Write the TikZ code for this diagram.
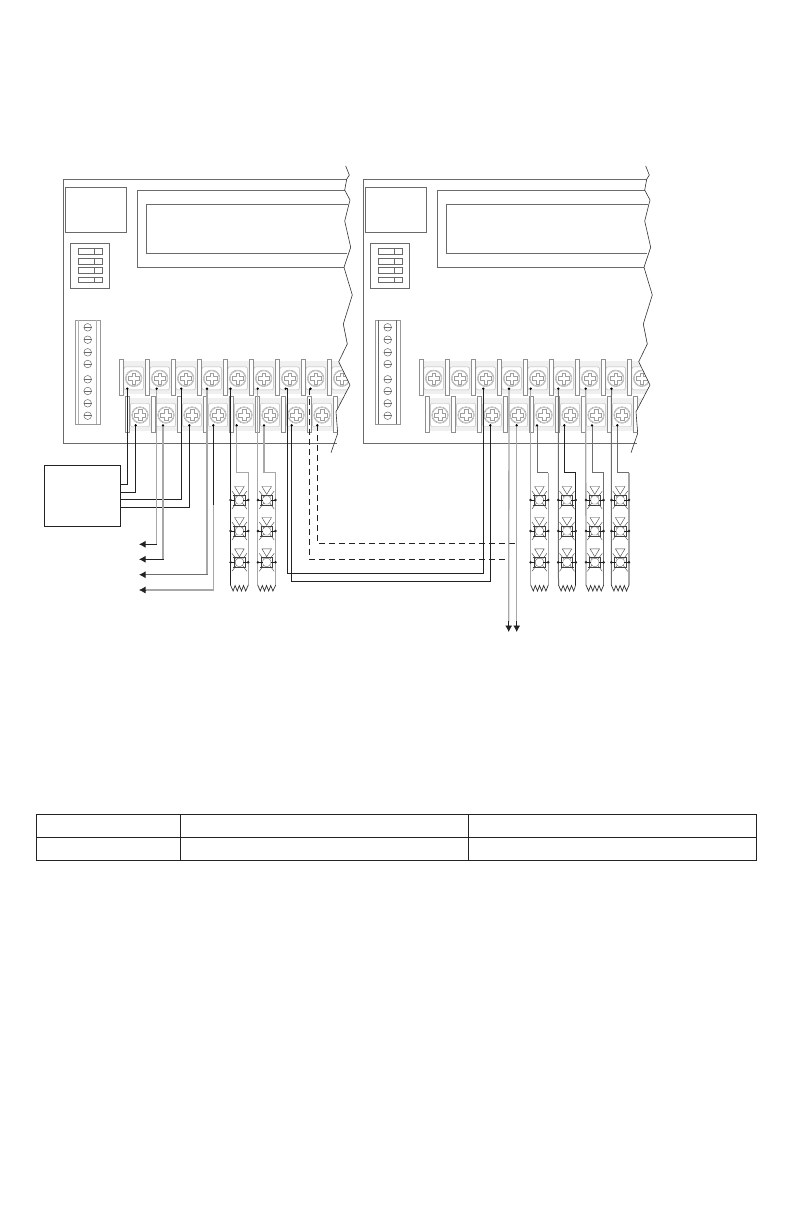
\documentclass[tikz,border=0pt]{standalone}
\usetikzlibrary{arrows.meta}
\definecolor{pline}{HTML}{6A6A6A}
\definecolor{wblack}{HTML}{222222}
\definecolor{wgray}{HTML}{A8A8A8}
\definecolor{wmid}{HTML}{6E6E6E}
\tikzset{
  panelline/.style={draw=pline,line width=0.8pt},
  breakline/.style={draw=black!80,line width=0.6pt},
  wireblack/.style={draw=wblack,line width=0.9pt},
  wiregray/.style={draw=wgray,line width=1.3pt},
  wiremid/.style={draw=wmid,line width=1pt},
  wiredash/.style={draw=wblack,line width=0.9pt,dash pattern=on 6pt off 4pt},
  tip/.style={-{Latex[length=6.5pt,width=7pt]}},
  barrier/.style={draw=pline!75,fill=white,line width=0.7pt},
  padbox/.style={draw=black!28,rounded corners=2pt,line width=0.45pt,fill=white},
  screwring/.style={draw=black!38,line width=0.4pt},
  tbl/.style={draw=wblack,line width=0.95pt},
  lampline/.style={draw=black!75,line width=0.4pt}
}
\newcommand{\screwhead}[2]{%
  \draw[padbox] (#1-9.7,#2-11.5) rectangle (#1+9.7,#2+11.5);
  \draw[screwring] (#1,#2) circle (8.3);
  \draw[screwring] (#1,#2) circle (7.5);
  \draw[screwring] (#1-1.7,#2-5.5) -- (#1+1.7,#2-5.5) -- (#1+1.7,#2-1.7) -- (#1+5.5,#2-1.7) -- (#1+5.5,#2+1.7) -- (#1+1.7,#2+1.7) -- (#1+1.7,#2+5.5) -- (#1-1.7,#2+5.5) -- (#1-1.7,#2+1.7) -- (#1-5.5,#2+1.7) -- (#1-5.5,#2-1.7) -- (#1-1.7,#2-1.7) -- cycle;
}
\newcommand{\boardpanel}[2]{%
\begin{scope}[xshift=#1pt]
  \draw[panelline] (346.7,179.3) -- (63.3,179.3) -- (63.3,443.7) -- (337,443.7);
  \draw[panelline] (65.5,187.3) rectangle (126.3,232.3);
  \draw[panelline] (344.7,190.7) -- (137.3,190.7) -- (137.3,267.3) -- (344,267.3);
  \draw[panelline] (348,204.3) -- (146.3,204.3) -- (146.3,253.3) -- (347,253.3);
  \draw[panelline] (70.3,243.3) rectangle (109.7,288.3);
  \foreach \ya/\yb in {248.5/254.3,258.3/264.3,267.7/273.7,277.3/282.7}{
    \draw[panelline,line width=0.6pt] (78.3,\ya) rectangle (102.7,\yb);
    \draw[panelline,line width=0.6pt] (94.3,\ya) -- (94.3,\yb);
  }
  \draw[draw=black!40,line width=0.7pt] (75.3,320.3) rectangle (100.3,424.3);
  \draw[draw=#2,line width=0.6pt] (78.7,320.3) -- (78.7,424.3) (96,320.3) -- (96,424.3);
  \foreach \sy in {327.3,339.7,352.3,364,379.3,391,403.3,415.7}{
    \draw[pline,line width=0.5pt] (87.7,\sy) circle (3.8);
    \draw[pline,line width=0.5pt] (83.9,\sy) -- (91.5,\sy);
  }
  \begin{scope}
    \clip (100,350) -- (336,350) -- (338.7,361.7) -- (350,385) -- (336,411.7) -- (337.7,436) -- (100,436) -- cycle;
    \fill[black!6] (120,360.5) rectangle (355,394);
    \fill[black!6] (127,397.5) rectangle (355,431);
    \foreach \k in {0,...,8}{ \screwhead{133.7+26*\k}{378.3} }
    \foreach \k in {0,...,7}{ \screwhead{140+26*\k}{415} }
    \foreach \k in {0,...,8}{ \draw[barrier] (119.4+26*\k,359.3) rectangle (122.9+26*\k,395.7); }
    \foreach \k in {0,...,8}{ \draw[barrier] (125.7+26*\k,396.3) rectangle (129.2+26*\k,432.7); }
  \end{scope}
  \draw[breakline] (345.7,166) -- (349.3,175) -- (346.7,179.3) -- (344.7,190) -- (350,200) -- (344.7,221) -- (350.7,247.3) -- (344,267.3) -- (352.3,295) -- (343.3,324) -- (347.3,344) -- (338.7,361.7) -- (350,385) -- (336,411.7) -- (337.7,433.3) -- (331,452.7);
\end{scope}}
\newcommand{\lampsym}[2]{%
  \begin{scope}[shift={(#1,#2)}]
    \draw[lampline] (-4.8,-13.5) -- (4.8,-13.5) -- (0,-5.6) -- cycle;
    \draw[lampline] (-7.5,-9) -- (-3,-3) (7.5,-9) -- (3,-3) (-7.5,9) -- (-3,3) (7.5,9) -- (3,3);
    \draw[lampline] (-6,-5.2) -- (6,-5.2) (-6.5,5.2) -- (6.5,5.2) (-5.6,-5.2) -- (-5.6,5.2) (5.6,-5.2) -- (5.6,5.2);
    \draw[lampline,draw=black!55,fill=white] (-4,-1.7) -- (-1.7,-4) -- (1.7,-4) -- (4,-1.7) -- (4,1.7) -- (1.7,4) -- (-1.7,4) -- (-4,1.7) -- cycle;
    \draw[wblack,line width=0.6pt] (-8.8,0) -- (-4,0) (4,0) -- (8.8,0);
    \fill[wblack] (-8.8,0) circle (1.4) (8.8,0) circle (1.4);
  \end{scope}}
\newcommand{\lampcol}[1]{\lampsym{#1}{500}\lampsym{#1}{531}\lampsym{#1}{562.3}}
\newcommand{\zigzag}[2]{%
  \draw[draw=black!80,line width=0.7pt] (#1,585) -- (#1+2.6,591) -- (#1+4.6,585.5) -- (#1+6.8,591) -- (#1+8.8,585.5) -- (#1+11,591) -- (#1+13,585.5) -- (#1+15.2,591) -- (#2,585);}
\newcommand{\termdot}[1]{\fill[black] (#1) circle (1.3);}
\begin{document}
\begin{tikzpicture}[x=1pt,y=-1pt]
\useasboundingbox (0,0) rectangle (792,1224);
\boardpanel{0}{black!30}
\boardpanel{300}{pline}
% terminal points, first panel
\foreach \n/\x in {ta/127.3,tb/156.7,tc/181.3,td/207,te/230.5,tf/257.7,tg/285.7,th/310.5}{\coordinate (\n) at (\x,388.7);}
\foreach \n/\x in {ba/135.7,bb/163,bc/189.3,bd/213.3,be/236.7,bf/264,bg/291.7,bh/317.3}{\coordinate (\n) at (\x,425.3);}
% terminal points, second panel
\foreach \n/\x in {pa/483.3,pb/509,pc/530.7,pd/558.3,pe/585.7,pf/611.5}{\coordinate (\n) at (\x,388.7);}
\foreach \n/\x in {qa/490.3,qb/516.7,qc/537,qd/564.3,qe/592,qf/617.3}{\coordinate (\n) at (\x,425.3);}
% control box
\node[draw=wblack,line width=0.9pt,minimum width=76pt,minimum height=61pt,inner sep=0pt,anchor=north west] (ctrl) at (44.3,465.3) {};
\draw[wireblack] (ta) -- (127.3,484.3) -- (ctrl.east |- 0,484.3);
\draw[wireblack] (ba) -- (135.7,492.3) -- (ctrl.east |- 0,492.3);
\draw[wireblack] (tc) -- (181.3,499.3) -- (ctrl.east |- 0,499.3);
\draw[wireblack] (bc) -- (189.3,507.3) -- (ctrl.east |- 0,507.3);
% outgoing arrows
\coordinate (ea) at (139,544.3); \coordinate (eb) at (139,559.3); \coordinate (ec) at (139,574.7); \coordinate (ed) at (139,590);
\draw[wiregray] (tb) -- (156.7,544.3);
\draw[wiregray] (bb) -- (163,559.3);
\draw[wiregray] (td) -- (207,574.7);
\draw[wireblack] (bd) -- (213.3,505);
\draw[wiregray] (213.3,505) -- (213.3,590);
\draw[wireblack,tip] (157,544.3) -- (ea);
\draw[wireblack,tip] (163.5,559.3) -- (eb);
\draw[wiremid,-{Latex[length=6.5pt,width=7pt,color=wblack]}] (207.5,574.7) -- (ec);
\draw[wiregray] (213.9,590) -- (146,590);
\draw[wblack,line width=0.8pt,tip] (146,590) -- (ed);
% speaker loops, first panel
\draw[wireblack] (te) -- (230.5,585);
\draw[wiregray] (be) -- (236.7,472.7) -- (248.3,472.7) -- (248.3,585);
\draw[wiregray] (tf) -- (257.7,585);
\draw[wiregray] (bf) -- (264,472.7) -- (275.7,472.7) -- (275.7,585);
\lampcol{239.4}\lampcol{266.7}
\zigzag{230.5}{248.3}\zigzag{257.7}{275.7}
% speaker loops, second panel
\draw[wiregray] (pc) -- (530.7,585);
\draw[wiremid] (qc) -- (537,472.7) -- (548.3,472.7);
\draw[wiregray] (548.3,472.7) -- (548.3,585);
\draw[wiremid] (pd) -- (558.5,585);
\draw[wireblack] (qd) -- (564.3,472.7) -- (575.7,472.7) -- (575.7,585);
\draw[wiregray] (pe) -- (586,585);
\draw[wiremid] (qe) -- (592,472.7) -- (603.7,472.7) -- (603.7,585);
\draw[wiremid] (pf) -- (611.3,585);
\draw[wiremid] (qf) -- (617.3,472.7) -- (629,472.7);
\draw[wiregray] (629,472.7) -- (629,585);
\lampcol{539.4}\lampcol{567}\lampcol{594.8}\lampcol{620.2}
\zigzag{530.7}{548.3}\zigzag{558.5}{575.7}\zigzag{586}{603.7}\zigzag{611.3}{629}
% links between panels
\draw[wireblack] (tg) -- (287.3,388.7) -- (287.3,573.3) -- (483.3,573.3) -- (pa);
\draw[wireblack] (bg) -- (291.7,581.3) -- (490.3,581.3) -- (qa);
\draw[wiredash] (309.5,388.7) -- (309.5,559) -- (508.7,559);
\draw[wiredash] (bh) -- (317.3,543.3) -- (516.7,543.3);
\coordinate (da) at (508.7,632); \coordinate (db) at (516.7,632);
\draw[wiregray] (pb) -- (508.7,622);
\draw[wiregray] (qb) -- (516.7,622);
\draw[wblack,line width=0.8pt,tip] (508.7,621) -- (da);
\draw[wblack,line width=0.8pt,tip] (516.7,621) -- (db);
% terminal dots
\foreach \n in {ta,tb,tc,td,te,tf,tg,th,ba,bb,bc,bd,be,bf,bg,bh,pa,pb,pc,pd,pe,pf,qa,qb,qc,qd,qe,qf}{\termdot{\n}}
% table
\draw[tbl] (36.5,814) rectangle (756,860);
\draw[tbl] (36.5,837.5) -- (756,837.5);
\draw[tbl] (180,814) -- (180,860) (468,814) -- (468,860);
\end{tikzpicture}
\end{document}
